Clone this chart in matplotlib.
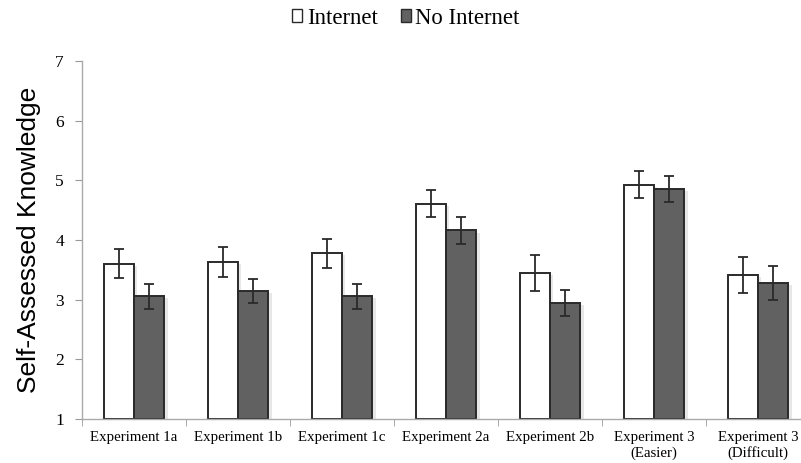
import matplotlib
matplotlib.use("Agg")
import matplotlib.pyplot as plt
import numpy as np
from matplotlib.patches import Patch
import matplotlib.patheffects as pe

categories = ["Experiment 1a", "Experiment 1b", "Experiment 1c", "Experiment 2a",
              "Experiment 2b", "Experiment 3\n(Easier)", "Experiment 3\n(Difficult)"]
internet = [3.60, 3.63, 3.78, 4.61, 3.45, 4.93, 3.42]
internet_err = [0.245, 0.25, 0.245, 0.22, 0.30, 0.22, 0.30]
no_internet = [3.06, 3.145, 3.055, 4.16, 2.94, 4.855, 3.28]
no_internet_err = [0.21, 0.20, 0.21, 0.225, 0.215, 0.215, 0.28]
yticks = [1, 2, 3, 4, 5, 6, 7]

serif = "Liberation Serif"
fig = plt.figure(figsize=(8.01, 4.63), dpi=100)
ax = fig.add_axes([82/801, 1 - 419/463, 728/801, 358/463])

x = np.arange(len(categories))
w = 0.29
base = 1
shadow = [pe.SimplePatchShadow(offset=(2.5, -1.5), shadow_rgbFace="#bbbbbb", alpha=0.35), pe.Normal()]
b1 = ax.bar(x - w/2, np.array(internet) - base, w, bottom=base, color="white",
            edgecolor="#2a2a2a", linewidth=1.4, zorder=2)
b2 = ax.bar(x + w/2, np.array(no_internet) - base, w, bottom=base, color="#616161",
            edgecolor="#2a2a2a", linewidth=1.4, zorder=2)
for b in list(b1) + list(b2):
    b.set_path_effects(shadow)
ax.errorbar(x - w/2, internet, yerr=internet_err, fmt="none", ecolor="#2a2a2a",
            elinewidth=1.3, capsize=3.5, capthick=1.3, zorder=3)
ax.errorbar(x + w/2, no_internet, yerr=no_internet_err, fmt="none", ecolor="#2a2a2a",
            elinewidth=1.3, capsize=3.5, capthick=1.3, zorder=3)

ax.set_xlim(-0.5, len(categories) - 0.5)
ax.set_ylim(1, 7)
ax.set_yticks(yticks)
ax.set_yticklabels([str(t) for t in yticks], fontfamily=serif, fontsize=12.5)
ax.set_xticks(x)
ax.set_xticklabels(categories, fontfamily=serif, fontsize=10.7, linespacing=1.15)
ax.tick_params(axis="x", which="major", length=0, pad=9)
ax.set_xticks(np.arange(-0.5, len(categories), 1), minor=True)
ax.tick_params(axis="x", which="minor", length=5, color="#999999", direction="out")
ax.tick_params(axis="y", length=5, color="#999999", direction="out", pad=8)
for s in ["top", "right"]:
    ax.spines[s].set_visible(False)
for s in ["left", "bottom"]:
    ax.spines[s].set_color("#aaaaaa")
    ax.spines[s].set_linewidth(1.0)

ax.set_ylabel("Self-Assessed Knowledge", fontfamily="Liberation Sans", fontsize=19, labelpad=10)

handles = [Patch(facecolor="white", edgecolor="#2a2a2a", linewidth=1.0, label="Internet"),
           Patch(facecolor="#616161", edgecolor="#2a2a2a", linewidth=1.0, label="No Internet")]
fig.legend(handles=handles, loc="center", bbox_to_anchor=(406/801, 1 - 18/463), ncol=2,
           frameon=False, prop={"family": serif, "size": 16.4}, handlelength=0.45,
           handleheight=0.45, handletextpad=0.2, columnspacing=1.0, borderpad=0)

fig.savefig("out.png", dpi=100)
